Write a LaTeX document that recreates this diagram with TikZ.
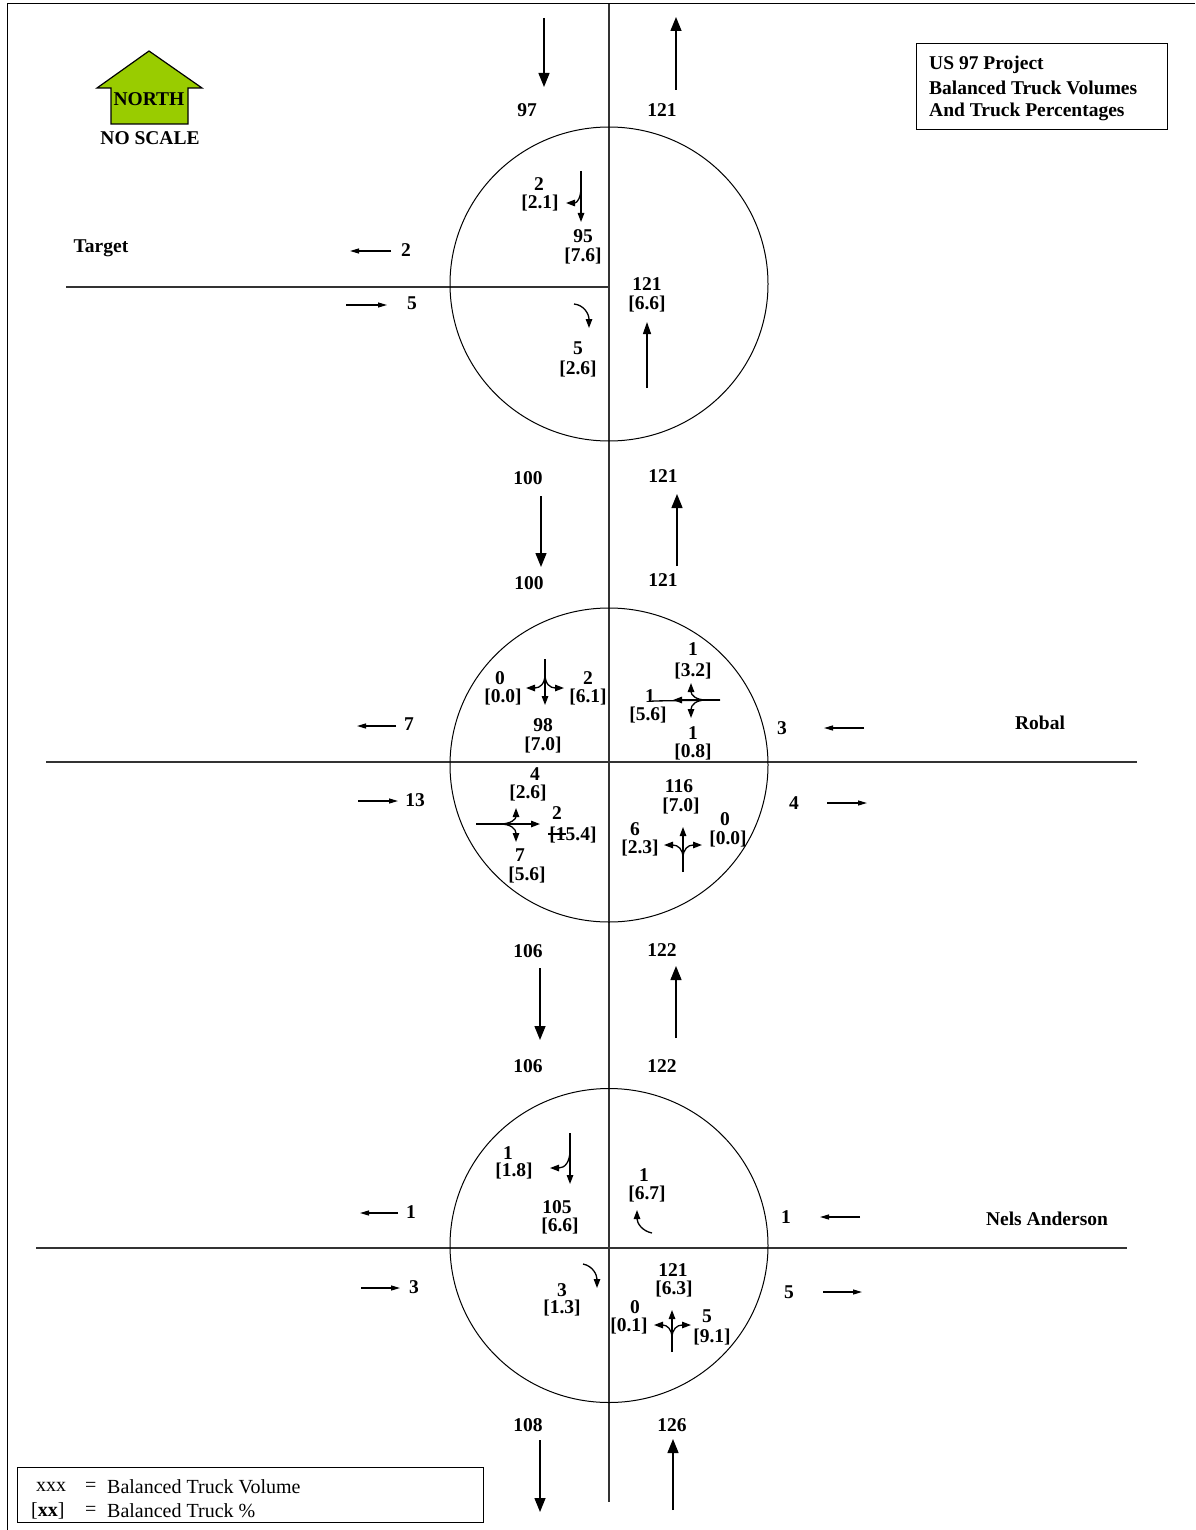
\documentclass[tikz,border=0pt]{standalone}
\usepackage{fontspec}
\setmainfont{Liberation Serif}
\usetikzlibrary{arrows.meta}
\definecolor{northgreen}{HTML}{99CC00}
\tikzset{
  lbl/.style={font=\bfseries\fontsize{19.5}{21}\selectfont, inner sep=0pt},
  plain/.style={font=\fontsize{20}{21}\selectfont, inner sep=0pt, anchor=west},
  road/.style={line width=1.2pt, black!80},
  circ/.style={line width=1pt},
  bigarr/.style={line width=1.4pt, -{Triangle[length=14pt,width=11pt]}},
  smarr/.style={line width=1.2pt, -{Triangle[length=9pt,width=5pt]}},
  inarr/.style={line width=1.3pt, -{Triangle[length=9pt,width=6.5pt]}},
}
\newcommand\mylab[4]{\node[lbl] (#1) at (#2,#3) {#4};}
\begin{document}
\begin{tikzpicture}[x=1pt,y=-1pt]
\useasboundingbox (0,0) rectangle (1195,1530);
% frame
\draw[line width=1pt] (7,1530) -- (7,4) -- (1195,4);
% roads
\draw[road] (609,4) -- (609,1502);
\draw[road] (66,287) -- (609,287);
\draw[road] (46,762) -- (1137,762);
\draw[road] (36,1248) -- (1127,1248);
% circles
\draw[circ] (609,284) ellipse [x radius=159, y radius=157];
\draw[circ] (609,765) ellipse [x radius=159, y radius=157];
\draw[circ] (609,1245.5) ellipse [x radius=159, y radius=157];
% north arrow
\draw[line width=1.2pt, fill=northgreen] (149,51) -- (202,88) -- (188,88) -- (188,124) -- (111,124) -- (111,88) -- (97,88) -- cycle;
\mylab{north}{149}{99}{NORTH}
\mylab{noscale}{150}{138}{NO SCALE}
% title box
\draw[line width=1pt] (916,44) rectangle (1167,130);
\node[lbl, anchor=west] (t1) at (929,65) {US 97 Project};
\node[lbl, anchor=west] (t2) at (929,88) {Balanced Truck Volumes};
\node[lbl, anchor=west] (t3) at (929,112) {And Truck Percentages};
% legend
\draw[line width=1pt] (17,1467) rectangle (483,1522);
\node[plain] (lg1) at (36,1487) {xxx};
\node[plain] (lg2) at (85,1487) {=};
\node[plain] (lg3) at (107,1487) {Balanced Truck Volume};
\node[plain] (lg4) at (31,1511) {[\textbf{xx}]};
\node[plain] (lg5) at (85,1511) {=};
\node[plain] (lg6) at (107,1511) {Balanced Truck \%};
% street names
\mylab{target}{101}{248}{Target}
\mylab{robal}{1040}{723}{Robal}
\mylab{nels}{1047}{1219}{Nels Anderson}
% big arrows
\draw[bigarr] (544,18) -- (544,87);
\draw[bigarr] (676,90) -- (676,17);
\draw[bigarr] (541,496) -- (541,567);
\draw[bigarr] (677,566) -- (677,494);
\draw[bigarr] (540,968) -- (540,1040);
\draw[bigarr] (676,1038) -- (676,966);
\draw[bigarr] (540,1440) -- (540,1512);
\draw[bigarr] (673,1510) -- (673,1439);
% small outside arrows
\draw[smarr] (391,251) -- (350,251);
\draw[smarr] (346,305) -- (387,305);
\draw[smarr] (396,726) -- (357,726);
\draw[smarr] (358,801) -- (398,801);
\draw[smarr] (864,728) -- (824,728);
\draw[smarr] (827,803) -- (867,803);
\draw[smarr] (398,1213) -- (360,1213);
\draw[smarr] (361,1288) -- (400,1288);
\draw[smarr] (860,1217) -- (820,1217);
\draw[smarr] (823,1292) -- (862,1292);
% labels outside
\mylab{a97}{527}{110}{97}
\mylab{a121}{662}{110}{121}
\mylab{w2}{406}{250}{2}
\mylab{e5}{412}{303}{5}
\mylab{b100}{528}{478}{100}
\mylab{b121}{663}{476}{121}
\mylab{c100}{529}{583}{100}
\mylab{c121}{663}{580}{121}
\mylab{w7}{409}{724}{7}
\mylab{e13}{415}{800}{13}
\mylab{w3}{782}{728}{3}
\mylab{e4}{794}{803}{4}
\mylab{d106}{528}{951}{106}
\mylab{d122}{662}{950}{122}
\mylab{e106}{528}{1066}{106}
\mylab{e122}{662}{1066}{122}
\mylab{nw1}{411}{1212}{1}
\mylab{ne3}{414}{1287}{3}
\mylab{nr1}{786}{1217}{1}
\mylab{nr5}{789}{1292}{5}
\mylab{f108}{528}{1425}{108}
\mylab{f126}{672}{1425}{126}
% circle 1 (Target)
\draw[inarr] (581,171) -- (581,222);
\draw[inarr] (581,187) .. controls (581,198) and (577,203) .. (566,203);
\mylab{c1a}{539}{184}{2}
\mylab{c1b}{540}{203}{[2.1]}
\mylab{c1c}{583}{236}{95}
\mylab{c1d}{583}{256}{[7.6]}
\mylab{c1e}{647}{284}{121}
\mylab{c1f}{647}{304}{[6.6]}
\draw[line width=1.3pt, -{Triangle[length=12pt,width=8pt]}] (647,388) -- (647,322);
\draw[inarr] (574,304) .. controls (584,305) and (589,314) .. (589,328);
\mylab{c1g}{578}{348}{5}
\mylab{c1h}{578}{369}{[2.6]}
% circle 2 (Robal) NW
\draw[inarr] (545,659) -- (545,705);
\draw[inarr] (545,674) .. controls (545,684) and (540,688) .. (526,688);
\draw[inarr] (545,674) .. controls (545,684) and (550,688) .. (564,688);
\mylab{r1}{500}{678}{0}
\mylab{r2}{503}{697}{[0.0]}
\mylab{r3}{588}{678}{2}
\mylab{r4}{588}{697}{[6.1]}
\mylab{r5}{543}{725}{98}
\mylab{r6}{543}{745}{[7.0]}
% NE
\draw[line width=1.3pt] (720,700) -- (652,701);
\draw[inarr] (720,700) -- (673,700);
\draw[inarr] (706,700) .. controls (696,700) and (691,695) .. (691,683);
\draw[inarr] (706,700) .. controls (696,700) and (691,705) .. (691,718);
\mylab{r7}{693}{649}{1}
\mylab{r8}{693}{671}{[3.2]}
\mylab{r9}{650}{696}{1}
\mylab{r10}{648}{715}{[5.6]}
\mylab{r11}{693}{733}{1}
\mylab{r12}{693}{752}{[0.8]}
% SW
\draw[inarr] (476,824) -- (540,824);
\draw[inarr] (500,824) .. controls (511,824) and (516,819) .. (516,808);
\draw[inarr] (500,824) .. controls (511,824) and (516,829) .. (516,842);
\mylab{r13}{535}{774}{4}
\mylab{r14}{528}{793}{[2.6]}
\mylab{r15}{557}{813}{2}
\mylab{r16}{573}{835}{[15.4]}
\draw[line width=1.2pt] (548,834) -- (566,834);
\mylab{r17}{520}{855}{7}
\mylab{r18}{527}{875}{[5.6]}
% SE
\draw[inarr] (683,872) -- (683,827);
\draw[inarr] (683,858) .. controls (683,849) and (678,845) .. (664,845);
\draw[inarr] (683,858) .. controls (683,849) and (688,845) .. (702,845);
\mylab{r19}{679}{786}{116}
\mylab{r20}{681}{806}{[7.0]}
\mylab{r21}{635}{829}{6}
\mylab{r22}{640}{848}{[2.3]}
\mylab{r23}{725}{819}{0}
\mylab{r24}{728}{839}{[0.0]}
% circle 3 (Nels Anderson)
\draw[inarr] (570,1133) -- (570,1184);
\draw[inarr] (570,1150) .. controls (570,1162) and (565,1168) .. (550,1168);
\mylab{n1}{508}{1153}{1}
\mylab{n2}{514}{1171}{[1.8]}
\mylab{n3}{557}{1207}{105}
\mylab{n4}{560}{1226}{[6.6]}
\draw[inarr] (652,1233) .. controls (642,1231) and (637,1223) .. (637,1210);
\mylab{n5}{644}{1175}{1}
\mylab{n6}{647}{1194}{[6.7]}
\draw[inarr] (583,1264) .. controls (593,1266) and (597,1275) .. (597,1288);
\mylab{n7}{562}{1290}{3}
\mylab{n8}{562}{1308}{[1.3]}
\draw[inarr] (672,1352) -- (672,1310);
\draw[inarr] (672,1338) .. controls (672,1329) and (667,1325) .. (654,1325);
\draw[inarr] (672,1338) .. controls (672,1329) and (677,1325) .. (691,1325);
\mylab{n9}{673}{1270}{121}
\mylab{n10}{674}{1289}{[6.3]}
\mylab{n11}{635}{1307}{0}
\mylab{n12}{629}{1326}{[0.1]}
\mylab{n13}{707}{1316}{5}
\mylab{n14}{712}{1337}{[9.1]}
\end{tikzpicture}
\end{document}
